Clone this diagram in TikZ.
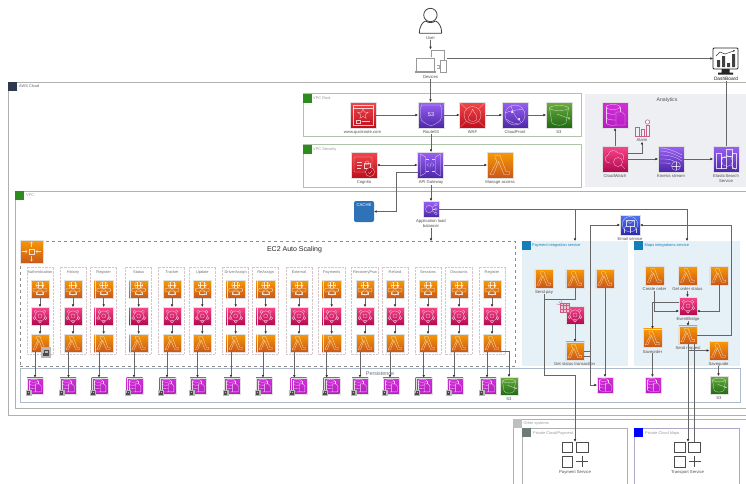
\documentclass[tikz,border=0pt]{standalone}
\usepackage{fontspec}
\setmainfont{Liberation Sans}
\usetikzlibrary{arrows.meta,calc}
\definecolor{ornT}{HTML}{F89A05}\definecolor{ornB}{HTML}{C9571A}
\definecolor{redT}{HTML}{F2474B}\definecolor{redB}{HTML}{BD0F1C}
\definecolor{purT}{HTML}{9A62F5}\definecolor{purB}{HTML}{4D27A8}
\definecolor{grnT}{HTML}{6CAE3E}\definecolor{grnB}{HTML}{1F6A14}
\definecolor{pnkT}{HTML}{F9478B}\definecolor{pnkB}{HTML}{B2084F}
\definecolor{magT}{HTML}{D52EDB}\definecolor{magB}{HTML}{B51DC0}
\definecolor{indT}{HTML}{4F76F5}\definecolor{indB}{HTML}{2E27AD}
\definecolor{lineC}{HTML}{666666}
\definecolor{txtC}{HTML}{505050}
\definecolor{paleBlue}{HTML}{E5F0F7}
\definecolor{vpcG}{HTML}{AEC4A8}
\definecolor{tagG}{HTML}{2E8B1E}
\definecolor{tagB}{HTML}{147EBA}
\definecolor{awsD}{HTML}{2F3B4C}
\definecolor{colD}{HTML}{D6C6CA}
\definecolor{perB}{HTML}{AEBBCB}
\definecolor{anaB}{HTML}{EEEFF3}
\definecolor{cacheB}{HTML}{2E73B8}
\definecolor{frmG}{HTML}{B0B0AC}
\definecolor{privG}{HTML}{6E7C76}
\definecolor{mapB}{HTML}{ABA8C8}
\definecolor{almC}{HTML}{CB5C84}
\tikzset{
  arr/.style={draw=lineC,line width=.55pt,-{Latex[length=2.6pt,width=2.6pt,black!80]}},
  arrb/.style={draw=lineC,line width=.55pt,{Latex[length=2.6pt,width=2.6pt,black!80]}-{Latex[length=2.6pt,width=2.6pt,black!80]}},
  plain/.style={draw=lineC,line width=.55pt},
  lbl/.style={font=\fontsize{4.2}{4.8}\selectfont,text=txtC,inner sep=0pt,align=center},
  grp/.style={font=\fontsize{3.9}{4.5}\selectfont,text=black!40,inner sep=0pt,anchor=west},
  frame/.style={draw=#1,line width=.6pt,inner sep=0pt,outer sep=0pt},
  tag/.style={fill=#1,inner sep=0pt,outer sep=0pt,minimum size=9pt},
  coldash/.style={draw=colD,line width=.6pt,dash pattern=on .7pt off .7pt,inner sep=0,outer sep=0,minimum width=26.5pt,minimum height=87pt},
  base/.style={inner sep=0pt,outer sep=0pt,draw=black!12,line width=.3pt},
  orn/.style={base,top color=ornT,bottom color=ornB},
  rd/.style={base,top color=redT,bottom color=redB},
  pur/.style={base,top color=purT,bottom color=purB},
  grn/.style={base,top color=grnT,bottom color=grnB},
  pnk/.style={base,top color=pnkT,bottom color=pnkB},
  mag/.style={base,top color=magT,bottom color=magB},
  ind/.style={base,top color=indT,bottom color=indB},
  gl/.style={draw=white,draw opacity=.75,line width=.3pt,fill=none},
}
\newcommand{\ic}[6]{\node[#5,minimum size=#4] (#1) at (#2,#3) {};
  \begin{scope}[shift={(#2,#3)},scale=#4/26,every path/.append style={gl}] #6 \end{scope}}
\newcommand{\glam}{\path (-5,-9.5)--(0,-9.5)--(6,6.5)--(9.5,6.5)--(9.5,9.5)--(4,9.5)--(-1.5,-3.5)--(-6.5,9.5)--(-10,9.5)--(-3,-4)--(-5,-7)--cycle;}
\newcommand{\gbrain}{\path (0,-5.5) ellipse[x radius=6,y radius=5];\path (-6,-5.5)--(6,-5.5);\path (-2.5,-10)--(-2.5,-1);\path (2.5,-10)--(2.5,-1);
  \path[rounded corners=1] (-10,-1) rectangle (10,4);\path (0,5) circle[radius=4];\path (-5,4)--(-5,8)--(5,8)--(5,4);}
\newcommand{\gevb}{\path (0,0) circle[radius=7.5];\path (0,0) circle[radius=3];
  \foreach \p in {(-6,-6),(6,-6),(-8,3),(8,3),(0,8)}{\path[fill=pnkT!70!pnkB] \p circle[radius=2.2];}}
\newcommand{\gdb}{\path (-2,-8) ellipse[x radius=7,y radius=2.5];\path (-9,-8)--(-9,8);\path (5,-8)--(5,-3);
  \path (-9,-3) .. controls (-8,-.5) and (-2,-.5) .. (1,-1);\path (-9,2.5) .. controls (-8,5) and (-2,5) .. (1,5);
  \path (-9,8) .. controls (-8,10.5) and (-2,10.5) .. (1,10);\path (1,-3) -- (7,-3) -- (10,0) -- (10,10) -- (1,10) -- cycle;}
\newcommand{\gwww}{\path (-10,-10) rectangle (10,10);\path (-10,-7)--(10,-7);
  \path (0,-6)--(1.35,-2.9)--(5.2,-2.7)--(2.2,-.3)--(3.2,3.4)--(0,1.3)--(-3.2,3.4)--(-2.2,-.3)--(-5.2,-2.7)--(-1.35,-2.9)--cycle;
  \path (-7,5) rectangle (-3,8);\path (-1,6.5)--(7,6.5);}
\newcommand{\grfs}{\path (-9.5,-10)--(9.5,-10)--(10.5,-6)--(10.5,2) .. controls (10.5,7) and (4,9) .. (0,11) .. controls (-4,9) and (-10.5,7) .. (-10.5,2)--(-10.5,-6)--cycle;
  \node[font=\fontsize{5.5}{6}\selectfont,text=white,inner sep=0pt] (txtfivethree) at (0,-.5) {53};}
\newcommand{\gwaf}{\path (0,0) circle[radius=8.5];\path (-12,-12)--(-6,-6);\path (12,-12)--(6,-6);\path (-12,12)--(-6,6);\path (12,12)--(6,6);
  \path (0,-6) .. controls (1,-2) and (6,0) .. (4,5) .. controls (2,7) and (-3,7) .. (-4,4) .. controls (-5,1) and (-1,-1) .. (0,-6);}
\newcommand{\gcf}{\path (0,0) circle[radius=10];\path (-10,-2) .. controls (-4,-5) and (4,-5) .. (8,-6);\path (-4,-9) .. controls (-2,-2) and (2,5) .. (6,7);\path (-9,4) .. controls (-4,8) and (2,9) .. (4,9);
  \path[fill=white] (-3,-3) circle[radius=1];\path[fill=white] (4,4) circle[radius=1];}
\newcommand{\gsthree}{\path (0,-7) ellipse[x radius=9.5,y radius=2.5];\path (-9.5,-7)--(-7,8) .. controls (-4,11) and (4,11) .. (7,8)--(9.5,-7);\path (-2,-1)--(9,3);\path (10,3.3) circle[radius=1];}
\newcommand{\gcog}{\path[rounded corners=1] (-10,-8) rectangle (8,7);\path (-7,-3)--(-2,-3);\path (-7,0)--(-2,0);\path (-7,3)--(-3,3);\path (0,-2) rectangle (6,3);\path (3,-2) circle[radius=2];
  \path[fill=redB] (6,7) circle[radius=4.5];\path (4,7)--(5.7,8.7)--(8.2,5.5);}
\newcommand{\gapi}{\path (-10,-11)--(-5,-8)--(-5,8)--(-10,11)--cycle;\path (10,-11)--(5,-8)--(5,8)--(10,11)--cycle;
  \path (-3.5,0)--(-2,-1.5);\path (-3.5,0)--(-2,1.5);\path (3.5,0)--(2,-1.5);\path (3.5,0)--(2,1.5);\path (-.8,2)--(.8,-2);
  \path[dashed] (-5,-6)--(5,-6);\path[dashed] (-5,6)--(5,6);}
\newcommand{\galb}{\path (-3,0) circle[radius=6];\path (8,-7) circle[radius=2.2];\path (8,0) circle[radius=2.2];\path (8,7) circle[radius=2.2];\path (2,-3)--(6,-6);\path (3,0)--(6,0);\path (2,3)--(6,6);}
\newcommand{\gcw}{\path (-5,4) .. controls (-11,4) and (-11,-3) .. (-7,-4) .. controls (-6,-9) and (0,-10) .. (3,-6) .. controls (8,-7) and (10,-2) .. (8,1);
  \path (3,3) circle[radius=4.5];\path (6.3,6.3)--(10,10);}
\newcommand{\gkin}{\path (-11,-8) .. controls (-3,-8) and (3,-5) .. (11,-1);\path (-11,-4) .. controls (-3,-4) and (3,-3) .. (11,2);\path (-11,0) .. controls (-3,0) and (0,0) .. (4,3);\path (-11,4) .. controls (-5,4) and (-2,4) .. (0,5);\path (-11,-11) .. controls (-3,-11) and (3,-8) .. (11,-4);
  \path (5,7) circle[radius=4.5];\path (1,7)--(9,7);\path (5,3)--(5,11);}
\newcommand{\ges}{\path (-10,-6) rectangle (-5,9);\path (-5,-2) rectangle (0,9);\path (0,-10) rectangle (6,-3);\path (6,-6) rectangle (10,9);
  \path (1,2) circle[radius=5.5];\path (5,6)--(10,11);}
\newcommand{\gem}{\path (0,-1) circle[radius=10];\path (-5,-6) rectangle (5,1);\path (-5,-6)--(0,-2)--(5,-6);\path (-8,5)--(-8,10);\path (0,1)--(0,11);\path (8,5)--(8,10);\path (-5,1)--(-8,5);\path (5,1)--(8,5);}
\newcommand{\gasg}{\path (-3,-3) rectangle (3,3);\path (-11,0)--(-5,0);\path (-7,-2)--(-5,0)--(-7,2);\path (11,0)--(5,0);\path (7,-2)--(5,0)--(7,2);\path (0,-11)--(0,-5);\path (-2,-9)--(0,-11)--(2,-9);\path (0,11)--(0,5);\path (-2,9)--(0,11)--(2,9);}
\newcommand{\lockbadge}[4]{\node[fill=black!28,inner sep=0,outer sep=0,minimum size=#4] (#1) at (#2,#3) {};
  \begin{scope}[shift={(#2,#3)},scale=#4/6]
  \fill[black!70] (-1.8,.1) rectangle (1.8,2.1);
  \draw[black!70,line width=.3pt] (-1,.1) -- (-1,-1.4) -- (1,-1.4) -- (1,.1);
  \end{scope}}
\newcommand{\svc}[3]{\node[inner sep=0,minimum width=26pt,minimum height=25pt] (#1) at (#2,#3) {};
  \begin{scope}[shift={(#2,#3)}]
  \draw[black!70,line width=.8pt] (-13,-12.5) rectangle (-2.5,-2);
  \draw[black!70,line width=.8pt] (1,-12.5) rectangle (13,-2);
  \draw[black!70,line width=.8pt] (-13,1.5) rectangle (-2.5,12.5);
  \draw[black!70,line width=.8pt] (1,7)--(13,7);\draw[black!70,line width=.8pt] (7,1.5)--(7,12.5);
  \end{scope}}
\begin{document}
\begin{tikzpicture}[x=1pt,y=-1pt]
\useasboundingbox (0,0) rectangle (746,483);
\clip (0,0) rectangle (746,483);
\fill[white] (0,0) rectangle (746,483);
% ------ frames
\node[frame=frmG,minimum width=758pt,minimum height=332.5pt,anchor=north west] (awscloud) at (8.5,82.5) {};
\node[tag=awsD,anchor=north west] (awstag) at (8,82) {};
\node[grp,text=black!60] (awslbl) at (19,86.5) {AWS Cloud};
\node[frame=frmG,minimum width=745pt,minimum height=217.5pt,anchor=north west] (vpc) at (15.5,191) {};
\node[tag=tagG,anchor=north west] (vpctag) at (15,190.5) {};
\node[grp] (vpclbl) at (26,195) {VPC};
\node[frame=vpcG,minimum width=278pt,minimum height=43pt,anchor=north west] (vroot) at (303,93.5) {};
\node[tag=tagG,anchor=north west] (vroottag) at (303,93.5) {};
\node[grp] (vrootlbl) at (313,98) {VPC Root};
\node[frame=vpcG,minimum width=278pt,minimum height=42.5pt,anchor=north west] (vsec) at (303,144.5) {};
\node[tag=tagG,anchor=north west] (vsectag) at (303,144.5) {};
\node[grp] (vseclbl) at (313,149) {VPC Security};
\node[fill=anaB,inner sep=0,outer sep=0,minimum width=170pt,minimum height=93pt,anchor=north west] (analytics) at (585,94) {};
\node[lbl,font=\fontsize{5.2}{6}\selectfont] (analyticslbl) at (667,100) {Analytics};
\node[draw=black!45,dashed,line width=.4pt,inner sep=0,outer sep=0,minimum width=495pt,minimum height=125pt,anchor=north west] (asg) at (20,241) {};
\node[lbl,font=\fontsize{7}{8}\selectfont,text=black!85] (asglbl) at (294.5,249.5) {EC2 Auto Scaling};
\node[draw=perB,line width=.7pt,inner sep=0,outer sep=0,minimum width=720pt,minimum height=34pt,anchor=north west] (persist) at (20,368) {};
\node[lbl,font=\fontsize{5.4}{6}\selectfont,text=perB!60!black] (persistlbl) at (380,373.5) {Persistence};
\node[fill=paleBlue,inner sep=0,outer sep=0,minimum width=106pt,minimum height=125pt,anchor=north west] (pay) at (522,241) {};
\node[tag=tagB,anchor=north west] (paytag) at (522,241) {};
\node[grp,text=tagB] (paylbl) at (532,245.5) {Payment integration service};
\node[fill=paleBlue,inner sep=0,outer sep=0,minimum width=106pt,minimum height=125pt,anchor=north west] (maps) at (634,241) {};
\node[tag=tagB,anchor=north west] (mapstag) at (634,241) {};
\node[grp,text=tagB] (mapslbl) at (644.5,245.5) {Maps integrations service};
\node[frame=frmG,minimum width=260pt,minimum height=90pt,anchor=north west] (other) at (513,419) {};
\node[tag=black!25,anchor=north west] (othertag) at (513,419) {};
\node[grp] (otherlbl) at (523.5,423) {Other systems};
\node[frame=frmG,minimum width=105pt,minimum height=80pt,anchor=north west] (privpay) at (522,428.5) {};
\node[tag=privG,anchor=north west] (privpaytag) at (522,428) {};
\node[grp] (privpaylbl) at (533,433) {Private Cloud/Payment};
\node[frame=mapB,minimum width=105pt,minimum height=80pt,anchor=north west] (privmap) at (634,428.5) {};
\node[tag=blue,anchor=north west] (privmaptag) at (634,428) {};
\node[grp] (privmaplbl) at (645,433) {Private-Cloud Maps};
% ------ user and devices
\node[inner sep=0,minimum width=24pt,minimum height=26pt] (user) at (430.5,20.5) {};
\draw[black!75,line width=.8pt,fill=white] (430.4,15) circle[radius=6.7];
\draw[black!75,line width=.8pt,rounded corners=.5pt] (419.3,33.3)--(441.7,33.3) .. controls (441.7,26) and (438,22) .. (435.5,21) .. controls (432.5,23) and (428.5,23) .. (425.5,21) .. controls (423,22) and (419.3,26) .. (419.3,33.3);
\node[lbl] (userlbl) at (430.5,38) {User};
\node[inner sep=0,minimum width=34pt,minimum height=24pt] (devices) at (431,61.5) {};
\draw[black!40,line width=.9pt] (431,57)--(431,50)--(444,50)--(444,60);
\draw[black!40,line width=.9pt] (416,71)--(416,58)--(434.5,58)--(434.5,71);
\draw[black!40,line width=1.5pt] (414.5,71.8)--(436,71.8);
\draw[black!35,line width=.7pt] (436.5,65)--(439,65)--(439,68)--(436.5,68);
\node[draw=black!40,line width=.8pt,fill=white,inner sep=0,outer sep=0,minimum width=6.5pt,minimum height=12.5pt] (phone) at (443.5,66.3) {};
\node[lbl] (devlbl) at (430.5,77.3) {Devices};
% ------ dashboard
\node[draw=black!85,line width=.9pt,rounded corners=1pt,fill=white,inner sep=0,outer sep=0,minimum width=25pt,minimum height=21pt] (dash) at (725.5,58.5) {};
\fill[black!85] (721.5,69)--(729.5,69)--(729.5,72.5)--(733,72.5)--(733,74.5)--(718,74.5)--(718,72.5)--(721.5,72.5)--cycle;
\fill[black!75] (717,60)rectangle(720,67) (722,56)rectangle(725,67) (727,63)rectangle(730,67) (732,54)rectangle(735,67);
\draw[black!80,line width=.5pt,-{Latex[length=1.6pt,width=2pt]}] (716,56)--(720,52)--(725,54)--(735,50.5);
\node[lbl,font=\fontsize{4.8}{5.4}\selectfont,text=black!90] (dashlbl) at (726,79) {DashBoard};
% ------ VPC Root row
\ic{www}{363}{115}{26}{rd}{\gwww}
\ic{r53}{431}{115}{26}{pur}{\grfs}
\ic{waf}{472.5}{115}{26}{rd}{\gwaf}
\ic{cf}{515}{115}{26}{pur}{\gcf}
\ic{sthree}{559}{115}{26}{grn}{\gsthree}
\node[lbl] (wwwlbl) at (362.5,132.3) {www.quicknote.com};
\node[lbl] (r53lbl) at (431,132.3) {Route53};
\node[lbl] (waflbl) at (472.5,132.3) {WAF};
\node[lbl] (cflbl) at (515,132.3) {CloudFront};
\node[lbl] (s3lbl) at (559,132.3) {S3};
% ------ VPC Security row
\ic{cog}{364}{165}{26}{rd}{\gcog}
\ic{api}{430.5}{165}{26}{pur}{\gapi}
\ic{man}{500}{165}{26}{orn}{\glam}
\node[lbl] (coglbl) at (364,182.8) {Cognito};
\node[lbl] (apilbl) at (431,182.8) {API Gateway};
\node[lbl] (manlbl) at (500,182.8) {Manage access};
% ------ analytics
\ic{sto}{615}{115}{26}{mag}{\gdb}
\ic{cw}{615}{159}{26}{pnk}{\gcw}
\ic{kin}{671}{159}{26}{pur}{\gkin}
\ic{es}{726}{159}{26}{pur}{\ges}
\node[inner sep=0,minimum width=15pt,minimum height=16pt] (alarm) at (642.5,128) {};
\draw[almC,line width=.6pt] (635.5,136)--(635.5,127)--(639,127)--(639,136)
 (641,136)--(641,129)--(644.5,129)--(644.5,136) (646.5,136)--(646.5,125)--(649,125)--(649,136) (634.5,136)--(650,136);
\draw[almC,line width=.6pt,fill=white] (647.5,122) circle[radius=2.2];
\node[lbl] (alarmlbl) at (642,140) {Alarm};
\node[lbl] (cwlbl) at (615,176) {CloudWatch};
\node[lbl] (kinlbl) at (671,176) {Kinesis stream};
\node[lbl] (eslbl) at (726,178.5) {ElasticSearch\\Service};
% ------ cache, ALB, email
\node[fill=cacheB,rounded corners=2pt,inner sep=0,outer sep=0,minimum width=20pt,minimum height=21pt] (cache) at (364,211.5) {};
\node[lbl,text=white,font=\fontsize{4.2}{5}\selectfont] (cachelbl) at (364,205.5) {CACHE};
\ic{alb}{431}{209}{16}{pur}{\galb}
\node[lbl] (alblbl) at (431,223.5) {Application load\\balancer};
\ic{email}{630}{225}{20}{ind}{\gem}
\node[lbl] (emaillbl) at (630,239) {Email service};
% ------ auto scaling + columns
\ic{asgi}{31.5}{251.5}{23}{orn}{\gasg}
\foreach \n/\cx/\bl/\lx/\dx/\t in {
 1/40/27/35/35/Authentication,
 2/73/60/68.5/68/History,
 3/103.7/90/99/99.7/Register,
 4/138.7/125/134/134.7/Status,
 5/172/158/167/167.7/Tracker,
 6/202.3/189/197.5/198/Update,
 7/235.7/222/231/232/DriverAssign,
 8/265.7/252/263/264/ReAssign,
 9/299/286/294.3/298.7/External,
 10/331.7/318.7/326.7/331.7/Payments,
 11/365/351.7/360/360/RecoveryPsw,
 12/395/382/390/391/Refund,
 13/428/415/423.7/423.7/Sessions,
 14/459/445.7/454/455/Discounts,
 15/492/479/487/488/Register}{
  \node[coldash,anchor=north west] (col\n) at (\bl,267) {};
  \node[lbl,font=\fontsize{3.9}{4.5}\selectfont,text=black!55] (hd\n) at (\cx,272.3) {\t};
  \ic{a\n}{\cx}{289}{18}{orn}{\gbrain}
  \ic{b\n}{\cx}{316}{18}{pnk}{\gevb}
  \ic{c\n}{\cx}{343}{18}{orn}{\glam}
  \ic{db\n}{\dx}{385.7}{16}{mag}{\gdb}
  \lockbadge{lk\n}{\dx-6.5}{393}{6}
  \coordinate (t\n) at (\lx,377.7);
  \draw[arr] (a\n.south) -- (b\n.north);
  \draw[arr] (b\n.south) -- (c\n.north);
  \draw[arr] (t\n |- c\n.south) -- (t\n);
}
\lockbadge{lkauth}{46}{352.5}{10.5}
\ic{sp}{509}{386}{18}{grn}{\gsthree}
\node[lbl] (splbl) at (509,399) {S3};
% ------ payment service
\ic{sendpay}{544}{278.5}{18.5}{orn}{\glam}
\ic{lamtwo}{575}{278.5}{18.5}{orn}{\glam}
\ic{lamthree}{605}{278.5}{18.5}{orn}{\glam}
\node[lbl] (sendpaylbl) at (544,292.3) {Send pay};
\ic{peb}{575}{315}{18}{pnk}{\gevb}
\node[draw=almC,fill=almC!35,line width=.4pt,inner sep=0,outer sep=0,minimum width=9pt,minimum height=9pt] (sched) at (564.5,308) {};
\draw[almC,line width=.3pt] (560,305.5)--(569,305.5) (563,303.5)--(563,312.5) (566,303.5)--(566,312.5) (560,309)--(569,309);
\draw[almC,line width=.4pt] (559,301.5)--(561,304) (556.5,304)--(560,304.5) (561.5,300.5)--(562,303);
\ic{gst}{575}{351}{18.5}{orn}{\glam}
\node[lbl] (gstlbl) at (574.5,364) {Get status transaction};
\ic{pdb}{605}{385}{16}{mag}{\gdb}
% ------ maps service
\ic{corder}{654.5}{275.5}{18.5}{orn}{\glam}
\ic{gorder}{687.5}{275.5}{18.5}{orn}{\glam}
\ic{mlam}{719}{275.5}{18.5}{orn}{\glam}
\node[lbl] (corderlbl) at (654.5,289) {Create order};
\node[lbl] (gorderlbl) at (687.5,289) {Get order status};
\ic{meb}{688}{306}{18}{pnk}{\gevb}
\node[lbl] (meblbl) at (688,319.3) {EventBridge};
\ic{sord}{652.5}{338}{18.5}{orn}{\glam}
\node[lbl] (sordlbl) at (652.5,351.5) {Saveorder};
\ic{sreq}{688}{335}{18.5}{orn}{\glam}
\node[lbl] (sreqlbl) at (688,348.3) {Send request};
\ic{sgd}{718.5}{350.5}{18.5}{orn}{\glam}
\node[lbl] (sgdlbl) at (718.5,364) {Saveguide};
\ic{mdb}{653}{385}{16}{mag}{\gdb}
\ic{ms}{719}{385}{18}{grn}{\gsthree}
\node[lbl] (mslbl) at (719,398) {S3};
% ------ external services
\svc{psvc}{575}{454.5}
\node[lbl] (psvclbl) at (575,472) {Payment Service};
\svc{tsvc}{687.5}{454.5}
\node[lbl] (tsvclbl) at (687.5,472) {Transport Service};
% ------ connectors
\draw[arr] (userlbl.south) -- (devices.north -| userlbl.south);
\draw[arr] (devlbl.south) -- (r53.north -| devlbl.south);
\draw[arr] (phone.north east |- dash.west) -- (dash.west);
\draw[plain] (es.north) -- (es.north |- dashlbl.south);
\draw[arr] (www.east) -- (r53.west);
\draw[arr] (r53.east) -- (waf.west);
\draw[arr] (waf.east) -- (cf.west);
\draw[arr] (cf.east) -- (sthree.west);
\draw[arr] (r53lbl.south) -- (api.north -| r53lbl.south);
\draw[arrb] (cog.east) -- (api.west);
\draw[arr] (api.east) -- (man.west);
\draw[arr] ([yshift=-7pt]api.west) -| ([xshift=22pt]cache.east) -- (cache.east);
\draw[arr] (apilbl.south) -- (alb.north);
\draw[arr] (alblbl.south) -- (alblbl.south |- asg.north);
\draw[arr] (alb.east) -| (pay.north);
\draw[arr] (alb.east) -| (maps.north);
\draw[arr] (cw.north) -- (sto.south);
\draw[arr] ([yshift=6pt]cw.east) -| (alarmlbl.south);
\draw[arr] (cw.east) -- (kin.west);
\draw[arr] (kin.east) -- (es.west);
\draw[arr] ([yshift=-8pt]c15.east) -| (sp.north);
\coordinate (pjoin) at (544,299);
\coordinate (pbend) at (575,375);
\draw[plain] (lamtwo.south) |- (pjoin);
\draw[arr] (sendpaylbl.south) |- (pbend) -- (psvc.north);
\draw[arr] (peb.south) -- (gst.north);
\draw[arr] (lamthree.south) -- (pdb.north);
\draw[arr] (gst.east) -| ([xshift=-7pt]pdb.west) -- (pdb.west);
\draw[arr] ([yshift=-5pt]gst.east) -| ([xshift=-30pt]email.west) -- (email.west);
\draw[arr] (sreq.east) -| ([xshift=91pt]email.east) -- (email.east);
\draw[arr] (corderlbl.south) |- ([yshift=-5pt]meb.west);
\draw[arr] (gorderlbl.south) -- (meb.north -| gorderlbl.south);
\draw[arr] (mlam.south) |- ([yshift=-5pt]meb.east);
\draw[arr] ([yshift=4pt]meb.west) -| (sord.north);
\draw[arr] (meblbl.south) -- (sreq.north);
\draw[arr] (sordlbl.south) -- (mdb.north -| sordlbl.south);
\draw[arr] (sgdlbl.south) -- (ms.north -| sgdlbl.south);
\draw[arr] (sreq.south) |- (sgd.west);
\draw[arr] (sreq.south) -- (tsvc.north -| sreq.south);
\draw[plain] ([xshift=6.5pt]sreq.south) -- ([xshift=6.5pt]sreq.south |- tsvc.north);
\end{tikzpicture}
\end{document}
